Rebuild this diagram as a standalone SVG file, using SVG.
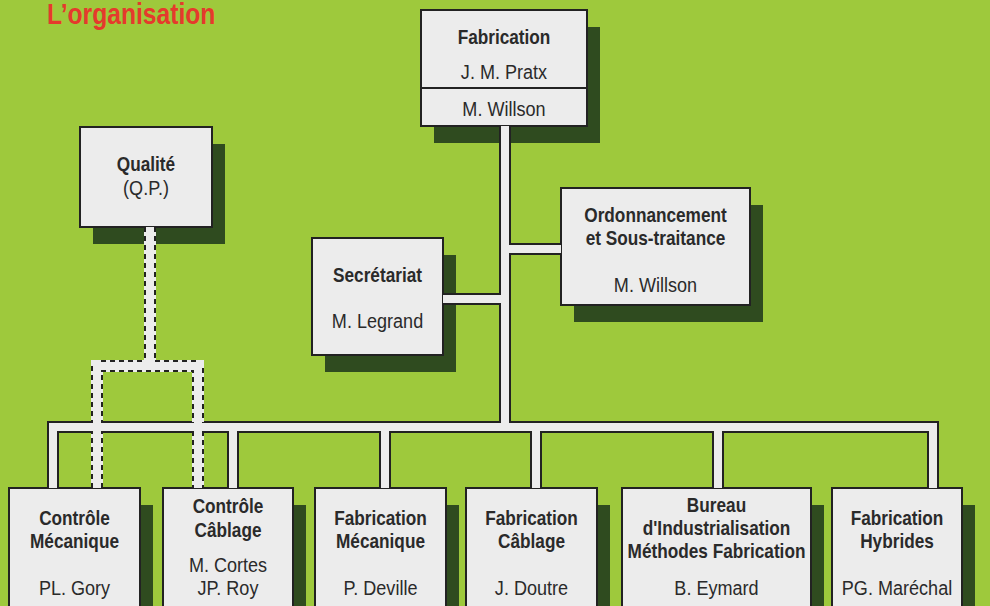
<svg xmlns="http://www.w3.org/2000/svg" width="990" height="606" viewBox="0 0 990 606">
<style>
.bg{fill:#9ec93c}
.sh{fill:#2f4b1f}
.box{fill:#ececec;stroke:#222;stroke-width:2}
.t{font-family:"Liberation Sans",Arial,sans-serif;font-size:21px;fill:#2a2a2a;text-anchor:middle}
.b{font-weight:bold}
.pipeO{fill:none;stroke:#222;stroke-width:12;stroke-linejoin:miter}
.pipeW{fill:none;stroke:#ececec;stroke-width:8;stroke-linejoin:miter}
.dashW{fill:none;stroke:#ececec;stroke-width:12}
.dashO{fill:none;stroke:#222;stroke-width:12;stroke-dasharray:5 4}
.title{font-family:"Liberation Sans",Arial,sans-serif;font-size:29px;font-weight:bold;fill:#e53a2c}
</style>
<rect class="bg" x="0" y="0" width="990" height="606"/>
<text class="title" transform="translate(47,24) scale(0.85,1)">L’organisation</text>

<g id="fabrication">
<rect class="sh" x="434" y="27" width="166" height="116"/>
<rect class="box" x="421" y="10" width="166" height="116"/>
<line x1="421" y1="88" x2="587" y2="88" stroke="#222" stroke-width="2"/>
<text class="t b" transform="translate(504,44) scale(0.82,1)">Fabrication</text>
<text class="t" transform="translate(504,79) scale(0.86,1)">J. M. Pratx</text>
<text class="t" transform="translate(504,116) scale(0.86,1)">M. Willson</text>
</g>

<g id="qualite">
<rect class="sh" x="93" y="144" width="132" height="100"/>
<rect class="box" x="80" y="127" width="132" height="100"/>
<text class="t b" transform="translate(146,171) scale(0.82,1)">Qualité</text>
<text class="t" transform="translate(146,195) scale(0.86,1)">(Q.P.)</text>
</g>

<g id="secretariat">
<rect class="sh" x="325" y="255" width="131" height="117"/>
<rect class="box" x="312" y="238" width="131" height="117"/>
<text class="t b" transform="translate(377.5,282) scale(0.82,1)">Secrétariat</text>
<text class="t" transform="translate(377.5,328) scale(0.86,1)">M. Legrand</text>
</g>

<g id="ordonnancement">
<rect class="sh" x="574" y="205" width="189" height="117"/>
<rect class="box" x="561" y="188" width="189" height="117"/>
<text class="t b" transform="translate(655.5,222) scale(0.82,1)">Ordonnancement</text>
<text class="t b" transform="translate(655.5,245) scale(0.82,1)">et Sous-traitance</text>
<text class="t" transform="translate(655.5,292) scale(0.86,1)">M. Willson</text>
</g>

<g id="controle-mecanique">
<rect class="sh" x="22" y="505" width="131" height="120"/>
<rect class="box" x="9" y="488" width="131" height="130"/>
<text class="t b" transform="translate(74.5,525) scale(0.82,1)">Contrôle</text>
<text class="t b" transform="translate(74.5,548) scale(0.82,1)">Mécanique</text>
<text class="t" transform="translate(74.5,595) scale(0.86,1)">PL. Gory</text>
</g>

<g id="controle-cablage">
<rect class="sh" x="176" y="505" width="130" height="120"/>
<rect class="box" x="163" y="488" width="130" height="130"/>
<text class="t b" transform="translate(228,513) scale(0.82,1)">Contrôle</text>
<text class="t b" transform="translate(228,537) scale(0.82,1)">Câblage</text>
<text class="t" transform="translate(228,572) scale(0.86,1)">M. Cortes</text>
<text class="t" transform="translate(228,595) scale(0.86,1)">JP. Roy</text>
</g>

<g id="fabrication-mecanique">
<rect class="sh" x="328" y="505" width="131" height="120"/>
<rect class="box" x="315" y="488" width="131" height="130"/>
<text class="t b" transform="translate(380.5,525) scale(0.82,1)">Fabrication</text>
<text class="t b" transform="translate(380.5,548) scale(0.82,1)">Mécanique</text>
<text class="t" transform="translate(380.5,595) scale(0.86,1)">P. Deville</text>
</g>

<g id="fabrication-cablage">
<rect class="sh" x="479" y="505" width="131" height="120"/>
<rect class="box" x="466" y="488" width="131" height="130"/>
<text class="t b" transform="translate(531.5,525) scale(0.82,1)">Fabrication</text>
<text class="t b" transform="translate(531.5,548) scale(0.82,1)">Câblage</text>
<text class="t" transform="translate(531.5,595) scale(0.86,1)">J. Doutre</text>
</g>

<g id="bureau-industrialisation">
<rect class="sh" x="635" y="505" width="189" height="120"/>
<rect class="box" x="622" y="488" width="189" height="130"/>
<text class="t b" transform="translate(716.5,512) scale(0.82,1)">Bureau</text>
<text class="t b" transform="translate(716.5,535) scale(0.82,1)">d'Industrialisation</text>
<text class="t b" transform="translate(716.5,558) scale(0.82,1)">Méthodes Fabrication</text>
<text class="t" transform="translate(716.5,595) scale(0.86,1)">B. Eymard</text>
</g>

<g id="fabrication-hybrides">
<rect class="sh" x="845" y="505" width="130" height="120"/>
<rect class="box" x="832" y="488" width="130" height="130"/>
<text class="t b" transform="translate(897,525) scale(0.82,1)">Fabrication</text>
<text class="t b" transform="translate(897,548) scale(0.82,1)">Hybrides</text>
<text class="t" transform="translate(897,595) scale(0.86,1)">PG. Maréchal</text>
</g>

<g id="connectors">
<g class="pipeO">
<path d="M53,488 V427 H933 V488"/>
<path d="M505,126 V427"/>
<path d="M443,299 H505"/>
<path d="M505,249 H561"/>
<path d="M233,427 V488"/>
<path d="M385,427 V488"/>
<path d="M536,427 V488"/>
<path d="M718,427 V488"/>
</g>
<g class="dashW">
<path d="M150,227 V366"/>
<path d="M97,488 V366 H198 V488"/>
</g>
<g class="dashO">
<path d="M150,227 V366"/>
<path d="M97,488 V366 H198 V488"/>
</g>
<g class="pipeW">
<path d="M53,488 V427 H933 V488"/>
<path d="M505,126 V427"/>
<path d="M443,299 H505"/>
<path d="M505,249 H561"/>
<path d="M233,427 V488"/>
<path d="M385,427 V488"/>
<path d="M536,427 V488"/>
<path d="M718,427 V488"/>
<path d="M150,227 V366"/>
<path d="M97,488 V366 H198 V488"/>
</g>
</g>
</svg>
